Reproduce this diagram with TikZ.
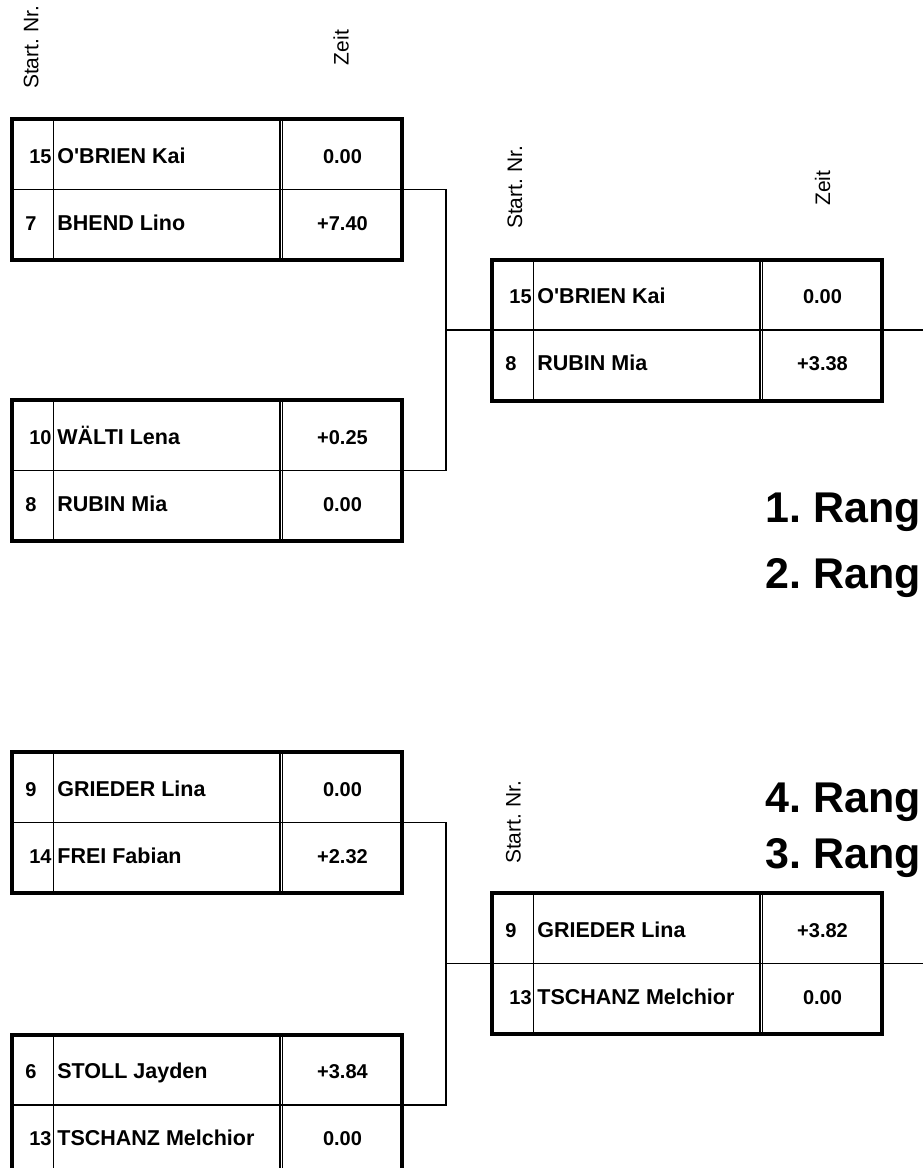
\documentclass[tikz,border=0pt]{standalone}
\usepackage{fontspec}
\setmainfont{Liberation Sans}
\usetikzlibrary{calc}
\frenchspacing

\tikzset{
  tablebox/.style={draw, line width=2pt, minimum width=195pt, minimum height=70.5pt, inner sep=0pt, outer sep=0pt, anchor=north west},
  rule/.style={line width=0.65pt},
  nr/.style={font=\fontsize{10}{12}\bfseries, anchor=base, inner sep=0pt},
  who/.style={font=\fontsize{10.75}{12}\bfseries, anchor=base west, inner sep=0pt},
  zeit/.style={font=\fontsize{10}{12}\bfseries, anchor=base, inner sep=0pt},
  head/.style={font=\fontsize{10.5}{12}\selectfont, rotate=90, anchor=base, inner sep=0pt},
  rang/.style={font=\fontsize{21.5}{24}\bfseries, anchor=base east, inner sep=0pt}
}

% one pairing: node name, top left corner, then the two rows (nr, name, time)
\newcommand\duel[8]{%
  \begin{scope}[shift={#2}]
    \node[tablebox] (#1) at (0,0) {};
    \draw[rule] (#1.west) -- (#1.east);
    \draw[rule] (42,0) -- (42,141);
    \draw[rule] (268.5,0) -- (268.5,141) (271,0) -- (271,141);
    \ifnum#3>9 \def\nrx{29}\else\def\nrx{19.5}\fi
    \node[nr] (#1n1) at (\nrx,44) {#3};
    \node[who] (#1p1) at (45.5,44) {#4};
    \node[zeit] (#1z1) at (331,44) {#5};
    \ifnum#6>9 \def\nrx{29}\else\def\nrx{19.5}\fi
    \node[nr] (#1n2) at (\nrx,111) {#6};
    \node[who] (#1p2) at (45.5,111) {#7};
    \node[zeit] (#1z2) at (331,111) {#8};
  \end{scope}}

\begin{document}
\begin{tikzpicture}[x=0.5pt, y=-0.5pt]
\clip (0,0) rectangle (923,1168);

% upper half
\duel{hf1}{(11.5,119)}{15}{O\textquotesingle BRIEN Kai}{0.00}{7}{BHEND Lino}{+7.40}
\duel{hf2}{(11.5,400)}{10}{WÄLTI Lena}{+0.25}{8}{RUBIN Mia}{0.00}
\duel{final}{(491.5,259.5)}{15}{O\textquotesingle BRIEN Kai}{0.00}{8}{RUBIN Mia}{+3.38}

\node[head] (hf1nr) at ($(hf1.north west)+(27,-71.5)$) {Start. Nr.};
\node[head] (hf1zt) at ($(hf1.north west)+(337,-71.5)$) {Zeit};
\node[head] (finalnr) at ($(final.north west)+(30.5,-72)$) {Start. Nr.};
\node[head] (finalzt) at ($(final.north west)+(338.5,-71.5)$) {Zeit};

\coordinate (j1) at (446,330);
\coordinate (out1) at (923,330);
\draw[rule] (hf1.east) -| (j1) |- (hf2.east);
\draw[rule] (j1) -- (final.west);
\draw[rule] (final.east) -- (out1);

\node[rang] (r1) at (921,522) {1. Rang};
\node[rang] (r2) at (921,588) {2. Rang};

% lower half
\duel{hf3}{(11.5,752)}{9}{GRIEDER Lina}{0.00}{14}{FREI Fabian}{+2.32}
\duel{hf4}{(11.5,1034.5)}{6}{STOLL Jayden}{+3.84}{13}{TSCHANZ Melchior}{0.00}
\duel{kfinal}{(491.5,893)}{9}{GRIEDER Lina}{+3.82}{13}{TSCHANZ Melchior}{0.00}

\node[head] (kfinalnr) at ($(kfinal.north west)+(29,-70.5)$) {Start. Nr.};

\coordinate (j2) at (446,963.5);
\coordinate (out2) at (923,963.5);
\draw[rule] (hf3.east) -| (j2) |- (hf4.east);
\draw[rule] (j2) -- (kfinal.west);
\draw[rule] (kfinal.east) -- (out2);

\node[rang] (r4) at (921,812) {4. Rang};
\node[rang] (r3) at (921,868) {3. Rang};
\end{tikzpicture}
\end{document}
